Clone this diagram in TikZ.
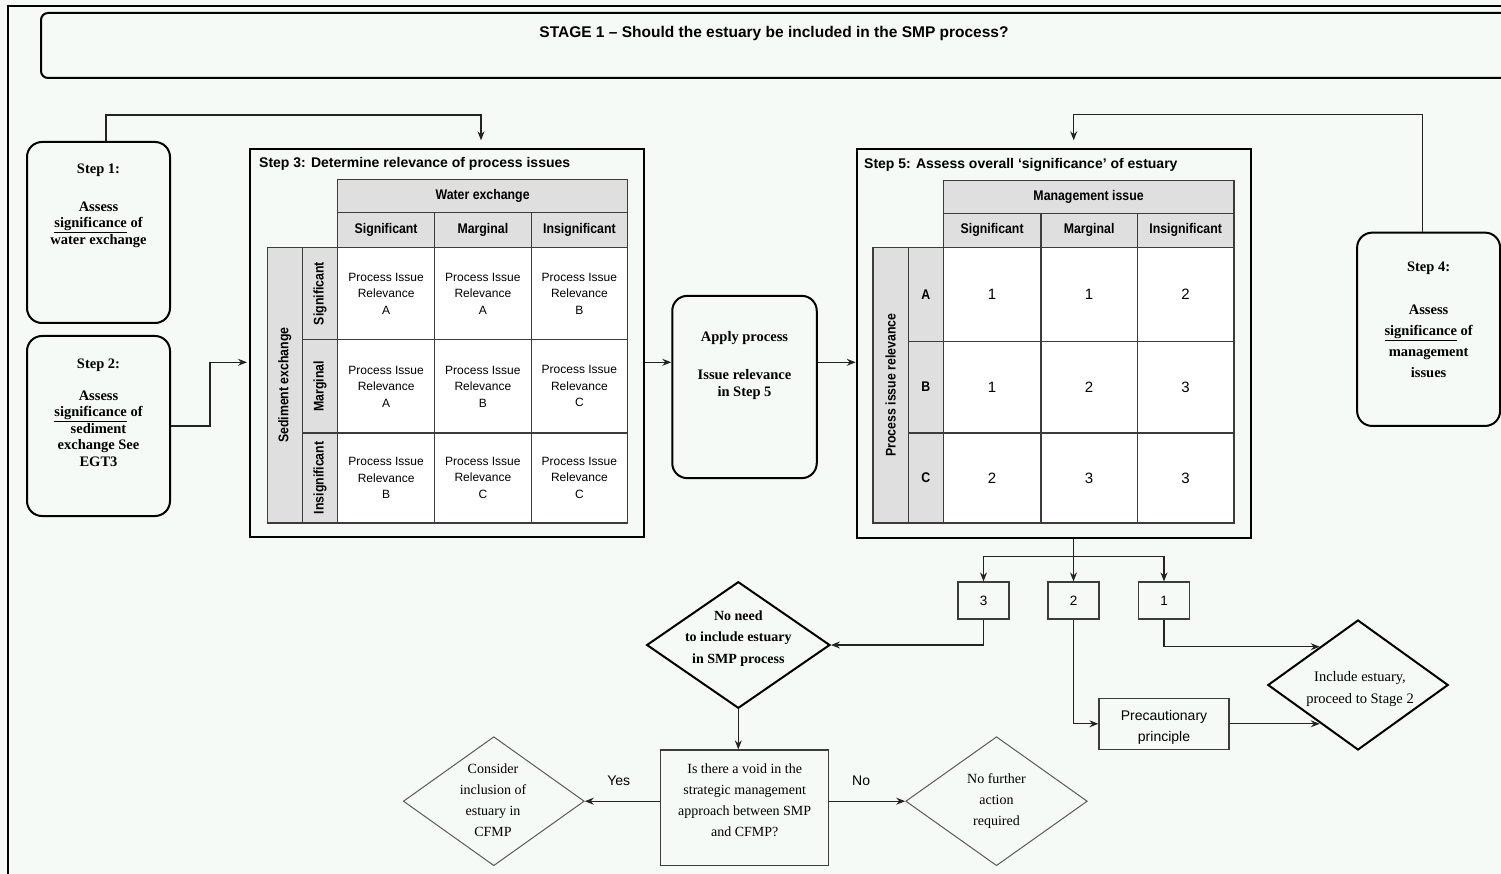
\documentclass[tikz,border=0pt]{standalone}
\usepackage{fontspec}
\usepackage{graphicx}
\setmainfont{Liberation Serif}
\setsansfont{Liberation Sans}
\newfontfamily\narrowsf[FakeStretch=0.88]{Liberation Sans}
\usetikzlibrary{arrows.meta,shapes.geometric,calc}
\definecolor{paper}{RGB}{246,250,247}
\definecolor{hdrgray}{RGB}{223,223,223}
\definecolor{gridline}{RGB}{60,60,60}
\definecolor{wire}{RGB}{35,35,35}
\definecolor{thinline}{RGB}{90,90,90}

\tikzset{
  stepbox/.style={draw=black, line width=2pt, rounded corners=15pt, fill=paper, inner sep=0pt},
  panel/.style={draw=black, line width=2pt, fill=paper, inner sep=0pt},
  cell/.style={draw=gridline, line width=1.2pt, anchor=north west, inner sep=0pt, align=center,
               fill=white, font=\sffamily\fontsize{12}{16.5}\selectfont},
  headcell/.style={cell, fill=hdrgray, font=\narrowsf\bfseries\fontsize{14}{16}\selectfont},
  numcell/.style={cell, font=\sffamily\fontsize{15}{18}\selectfont},
  conn/.style={draw=wire, line width=1.1pt, -{Stealth[length=9pt,width=7pt,inset=3pt]}},
  plainbox/.style={draw=gridline, line width=1.2pt, fill=paper, inner sep=0pt},
  bigdia/.style={diamond, draw=black, line width=2pt, fill=paper, inner sep=0pt},
  thindia/.style={diamond, draw=thinline, line width=1pt, fill=paper, inner sep=0pt},
  boldtext/.style={font=\bfseries\fontsize{14.5}{16.5}\selectfont, align=center, inner sep=0pt},
  plaintext/.style={font=\fontsize{14}{21}\selectfont, align=center, inner sep=0pt},
  sanstext/.style={font=\sffamily\fontsize{14}{21}\selectfont, align=center, inner sep=0pt},
  titletext/.style={font=\sffamily\bfseries\fontsize{14}{16}\selectfont, anchor=west, inner sep=0pt}
}

\begin{document}
\begin{tikzpicture}[x=1pt, y=-1pt]
\useasboundingbox (0,0) rectangle (1501,874);
\clip (0,0) rectangle (1501,874);
\fill[paper] (0,0) rectangle (1501,874);

% outer frame of the sheet
\draw[line width=2pt] (8,6) rectangle (1530,900);

% stage banner
\node[stepbox, rounded corners=7pt, minimum width=1499pt, minimum height=65pt] (stage) at (790.5,45.5) {};
\node[font=\sffamily\bfseries\fontsize{15.5}{18}\selectfont, inner sep=0pt] (stagetitle) at (774,33)
  {STAGE 1 – Should the estuary be included in the SMP process?};

% left-hand assessment steps
\node[stepbox, minimum width=143pt, minimum height=181pt] (s1) at (98.5,232.5) {};
\node[boldtext] (s1t) at (98.5,205.5)
  {Step 1:\\[21.5pt]Assess\\\underline{significance} of\\water exchange};
\node[stepbox, minimum width=143pt, minimum height=180pt] (s2) at (98.5,426) {};
\node[boldtext] (s2t) at (98.5,412.5)
  {Step 2:\\[15.5pt]Assess\\\underline{significance} of\\sediment\\exchange See\\EGT3};

% step 3 panel and matrix
\node[panel, minimum width=394pt, minimum height=388pt] (s3) at (447,343.3) {};
\node[titletext] (s3title) at (259,164) {Step 3: Determine relevance of process issues};

\node[headcell, minimum width=290pt, minimum height=33.3pt] (t3hdr) at (337,179) {Water exchange};
\node[headcell, minimum width=97pt, minimum height=34.4pt] (t3c1) at (337,212.3) {Significant};
\node[headcell, minimum width=96.5pt, minimum height=34.4pt] (t3c2) at (434,212.3) {Marginal};
\node[headcell, minimum width=96.5pt, minimum height=34.4pt] (t3c3) at (530.5,212.3) {Insignificant};
\node[headcell, minimum width=35pt, minimum height=275.6pt] (t3side) at (266.7,246.7) {\rotatebox{90}{Sediment exchange}};
\node[headcell, minimum width=35.3pt, minimum height=92.6pt] (t3r1) at (301.7,246.7) {\rotatebox{90}{Significant}};
\node[headcell, minimum width=35.3pt, minimum height=93pt] (t3r2) at (301.7,339.3) {\rotatebox{90}{Marginal}};
\node[headcell, minimum width=35.3pt, minimum height=90pt] (t3r3) at (301.7,432.3) {\rotatebox{90}{Insignificant}};

\node[cell, minimum width=97pt, minimum height=92.6pt] (t3a1) at (337,246.7) {Process Issue\\Relevance\\A};
\node[cell, minimum width=96.5pt, minimum height=92.6pt] (t3a2) at (434,246.7) {Process Issue\\Relevance\\A};
\node[cell, minimum width=96.5pt, minimum height=92.6pt] (t3a3) at (530.5,246.7) {Process Issue\\Relevance\\B};
\node[cell, minimum width=97pt, minimum height=93pt] (t3b1) at (337,339.3) {Process Issue\\Relevance\\A};
\node[cell, minimum width=96.5pt, minimum height=93pt] (t3b2) at (434,339.3) {Process Issue\\Relevance\\B};
\node[cell, minimum width=96.5pt, minimum height=93pt] (t3b3) at (530.5,339.3) {Process Issue\\Relevance\\C};
\node[cell, minimum width=97pt, minimum height=90pt] (t3c1x) at (337,432.3) {Process Issue\\Relevance\\B};
\node[cell, minimum width=96.5pt, minimum height=90pt] (t3c2x) at (434,432.3) {Process Issue\\Relevance\\C};
\node[cell, minimum width=96.5pt, minimum height=90pt] (t3c3x) at (530.5,432.3) {Process Issue\\Relevance\\C};

% apply box
\node[stepbox, minimum width=144.5pt, minimum height=182.3pt] (apply) at (744.5,387) {};
\node[boldtext] (applyt) at (744.5,365.5) {Apply process\\[21.3pt]Issue relevance\\in Step 5};

% step 5 panel and matrix
\node[panel, minimum width=394pt, minimum height=389pt] (s5) at (1053.7,343.8) {};
\node[titletext] (s5title) at (864,165) {Step 5: Assess overall ‘significance’ of estuary};

\node[headcell, minimum width=290.6pt, minimum height=32.7pt] (t5hdr) at (942.7,180) {Management issue};
\node[headcell, minimum width=97.6pt, minimum height=34pt] (t5c1) at (942.7,212.7) {Significant};
\node[headcell, minimum width=96.4pt, minimum height=34pt] (t5c2) at (1040.3,212.7) {Marginal};
\node[headcell, minimum width=96.6pt, minimum height=34pt] (t5c3) at (1136.7,212.7) {Insignificant};
\node[headcell, minimum width=35.4pt, minimum height=275.6pt] (t5side) at (872.3,246.7) {\rotatebox{90}{Process issue relevance}};
\node[headcell, minimum width=35pt, minimum height=94pt] (t5r1) at (907.7,246.7) {A};
\node[headcell, minimum width=35pt, minimum height=91.6pt] (t5r2) at (907.7,340.7) {B};
\node[headcell, minimum width=35pt, minimum height=90pt] (t5r3) at (907.7,432.3) {C};

\node[numcell, minimum width=97.6pt, minimum height=94pt] (t5a1) at (942.7,246.7) {1};
\node[numcell, minimum width=96.4pt, minimum height=94pt] (t5a2) at (1040.3,246.7) {1};
\node[numcell, minimum width=96.6pt, minimum height=94pt] (t5a3) at (1136.7,246.7) {2};
\node[numcell, minimum width=97.6pt, minimum height=91.6pt] (t5b1) at (942.7,340.7) {1};
\node[numcell, minimum width=96.4pt, minimum height=91.6pt] (t5b2) at (1040.3,340.7) {2};
\node[numcell, minimum width=96.6pt, minimum height=91.6pt] (t5b3) at (1136.7,340.7) {3};
\node[numcell, minimum width=97.6pt, minimum height=90pt] (t5c1x) at (942.7,432.3) {2};
\node[numcell, minimum width=96.4pt, minimum height=90pt] (t5c2x) at (1040.3,432.3) {3};
\node[numcell, minimum width=96.6pt, minimum height=90pt] (t5c3x) at (1136.7,432.3) {3};

% step 4
\node[stepbox, minimum width=143pt, minimum height=193.3pt] (s4) at (1428.6,329.3) {};
\node[boldtext, font=\bfseries\fontsize{14.5}{21}\selectfont] (s4t) at (1428.6,319.5)
  {Step 4:\\[22pt]Assess\\\underline{significance} of\\management\\issues};

% outcome boxes
\node[plainbox, minimum width=51pt, minimum height=37pt, font=\sffamily\fontsize{13.5}{15}\selectfont] (b3) at (983.5,600.5) {3};
\node[plainbox, minimum width=51pt, minimum height=37pt, font=\sffamily\fontsize{13.5}{15}\selectfont] (b2) at (1073.5,600.5) {2};
\node[plainbox, minimum width=51pt, minimum height=37pt, font=\sffamily\fontsize{13.5}{15}\selectfont] (b1) at (1164,600.5) {1};

\node[plainbox, minimum width=130pt, minimum height=51pt] (prec) at (1164,723.8) {};
\node[sanstext] (prect) at (1164,727.5) {Precautionary\\principle};

\node[bigdia, minimum width=180.4pt, minimum height=130pt] (incl) at (1358,685) {};
\node[plaintext, font=\fontsize{14.5}{22}\selectfont] (inclt) at (1360,689) {Include estuary,\\proceed to Stage 2};

\node[bigdia, minimum width=183.3pt, minimum height=126.6pt] (noneed) at (738.3,645) {};
\node[boldtext, font=\bfseries\fontsize{14}{21.5}\selectfont] (noneedt) at (738.3,638.5)
  {No need\\to include estuary\\in SMP process};

\node[plainbox, minimum width=168pt, minimum height=115.7pt] (void) at (744.7,807.8) {};
\node[plaintext] (voidt) at (744.7,800) {Is there a void in the\\strategic management\\approach between SMP\\and CFMP?};

\node[thindia, minimum width=181pt, minimum height=129pt] (consider) at (493.8,801.2) {};
\node[plaintext] (considert) at (493,800) {Consider\\inclusion of\\estuary in\\CFMP};

\node[thindia, minimum width=181.6pt, minimum height=129pt] (nofurther) at (996.5,801.2) {};
\node[plaintext] (nofurthert) at (996.5,801) {No further\\action\\required};

% connectors
\draw[conn] ($(s1.north)+(7.5,0)$) -- ++(0,-26) -| ($(s3.north)+(34,-8)$);
\draw[conn] (s2.east) -- ++(39,0) |- ($(s3.west)+(-2,19)$);
\coordinate (flow) at ($(s3.east)+(0,19)$);
\draw[conn] (flow) -- (flow -| apply.west);
\draw[conn] (flow -| apply.east) -- (flow -| s5.west);
\draw[conn] ($(s4.north)+(-6,0)$) -- ++(0,-117) -| ($(s5.north)+(20,-8)$);

\coordinate (split) at ($(s5.south -| b2.north)+(0,17)$);
\draw[conn] (s5.south -| b2.north) -- (b2.north);
\draw[conn] (split) -| (b3.north);
\draw[conn] (split) -| (b1.north);

\draw[conn] (b3.south) |- (noneed.east);
\draw[conn] (b1.south) |- (incl.135);
\draw[conn] (b2.south) |- (prec.west);
\draw[conn] (prec.east) -- (prec.east -| incl.225);

\draw[conn] (noneed.south) -- (noneed.south |- void.north);
\draw[conn] (void.west |- consider.east) -- node[pos=0.55, above=15pt, sanstext] (yes) {Yes} (consider.east);
\draw[conn] (void.east |- nofurther.west) -- node[pos=0.42, above=15pt, sanstext] (no) {No} (nofurther.west);
\end{tikzpicture}
\end{document}
